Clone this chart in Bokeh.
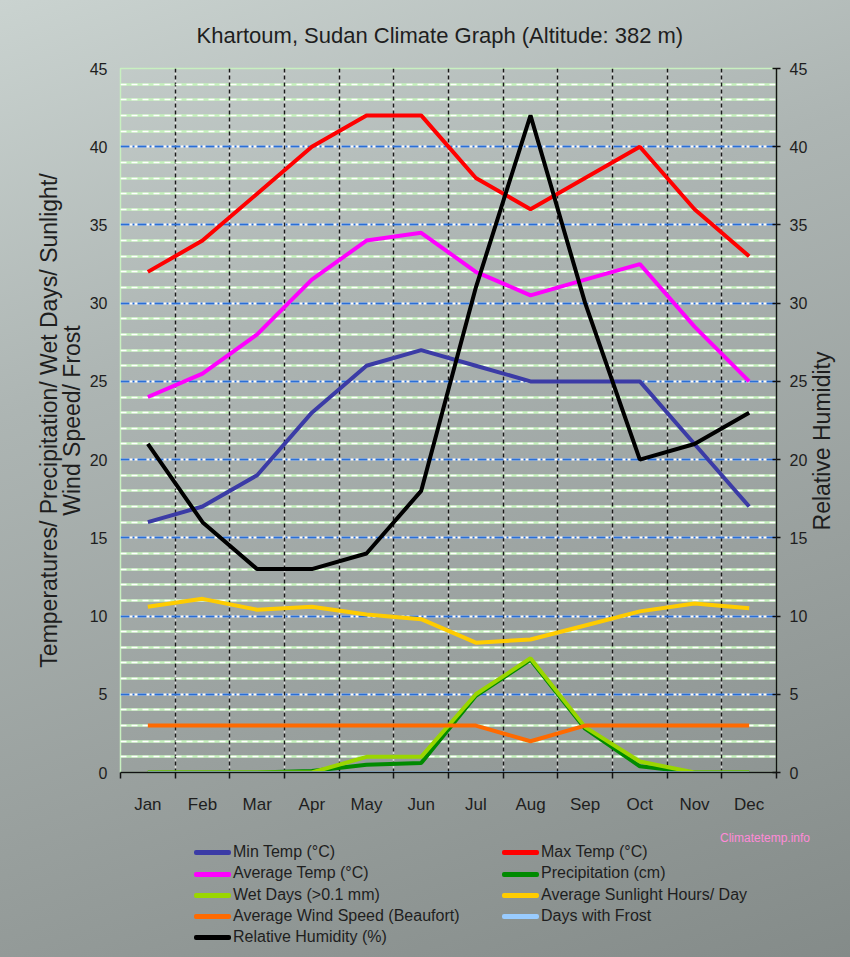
from bokeh.plotting import figure
from bokeh.layouts import column, row
from bokeh.models import (Range1d, LinearAxis, FixedTicker, Grid, Div)
from bokeh.embed import file_html
from bokeh.resources import INLINE

months = ["Jan", "Feb", "Mar", "Apr", "May", "Jun", "Jul", "Aug", "Sep", "Oct", "Nov", "Dec"]
month_index = [1, 2, 3, 4, 5, 6, 7, 8, 9, 10, 11, 12]
min_temp = [16, 17, 19, 23, 26, 27, 26, 25, 25, 25, 21, 17]
max_temp = [32, 34, 37, 40, 42, 42, 38, 36, 38, 40, 36, 33]
avg_temp = [24, 25.5, 28, 31.5, 34, 34.5, 32, 30.5, 31.5, 32.5, 28.5, 25]
precipitation = [0, 0, 0, 0.1, 0.5, 0.6, 4.9, 7.2, 2.8, 0.4, 0, 0]
wet_days = [0, 0, 0, 0, 1, 1, 5, 7.3, 2.9, 0.7, 0, 0]
sunlight = [10.6, 11.1, 10.4, 10.6, 10.1, 9.8, 8.3, 8.5, 9.4, 10.3, 10.8, 10.5]
wind_speed = [3, 3, 3, 3, 3, 3, 3, 2, 3, 3, 3, 3]
frost_days = [0, 0, 0, 0, 0, 0, 0, 0, 0, 0, 0, 0]
humidity = [21, 16, 13, 13, 14, 18, 31, 42, 30, 20, 21, 23]
major_y_ticks = [0, 5, 10, 15, 20, 25, 30, 35, 40, 45]
minor_y_ticks = [1, 2, 3, 4, 6, 7, 8, 9, 11, 12, 13, 14, 16, 17, 18, 19, 21, 22, 23, 24,
                 26, 27, 28, 29, 31, 32, 33, 34, 36, 37, 38, 39, 41, 42, 43, 44]
month_bounds = [0.5, 1.5, 2.5, 3.5, 4.5, 5.5, 6.5, 7.5, 8.5, 9.5, 10.5, 11.5, 12.5]
series_labels = ["Min Temp (°C)", "Max Temp (°C)", "Average Temp (°C)", "Precipitation (cm)",
                 "Wet Days (>0.1 mm)", "Average Sunlight Hours/ Day",
                 "Average Wind Speed (Beaufort)", "Days with Frost", "Relative Humidity (%)"]

series_colors = ["#3b3ba6", "#ff0000", "#ff00ff", "#008a00", "#9ad600", "#ffcc00",
                 "#ff6a00", "#99ccff", "#000000"]

FONT = "Liberation Sans"
TXT = "#1e1e1e"

p = figure(width=810, height=826, output_backend="svg", toolbar_location=None,
           x_range=Range1d(0.5, 12.5), y_range=Range1d(0, 45),
           min_border_left=120, min_border_right=32, min_border_top=68, min_border_bottom=54,
           x_axis_location=None, y_axis_location=None)
p.extra_y_ranges = {"rh": Range1d(0, 45)}
p.background_fill_alpha = 0
p.border_fill_alpha = 0
p.outline_line_color = "#c8f0c0"
p.outline_line_width = 1.5

# title
p.title.text = "Khartoum, Sudan Climate Graph (Altitude: 382 m)"
p.title.align = "left"
p.title.text_font = FONT
p.title.text_font_size = "22px"
p.title.text_font_style = "normal"
p.title.text_color = TXT
p.title.offset = 76
p.title.standoff = 41

# grids
p.xgrid.ticker = FixedTicker(ticks=month_bounds[1:-1])
p.xgrid.grid_line_color = "#f0f0f0"
p.xgrid.grid_line_alpha = 0.7
p.xgrid.grid_line_width = 1.5
vgrid = Grid(dimension=0, ticker=FixedTicker(ticks=month_bounds[1:-1]),
             grid_line_color="#1a1a1a", grid_line_width=1.5, grid_line_dash="4 3")
p.add_layout(vgrid)

p.ygrid.ticker = FixedTicker(ticks=major_y_ticks[1:-1], minor_ticks=minor_y_ticks)
p.ygrid.grid_line_color = "#ffffff"
p.ygrid.grid_line_width = 2
p.ygrid.minor_grid_line_color = "#c6f2bd"
p.ygrid.minor_grid_line_width = 2.5
hgrid = Grid(dimension=1, ticker=FixedTicker(ticks=major_y_ticks[1:-1], minor_ticks=minor_y_ticks),
             grid_line_color="#2a6fd6", grid_line_width=2, grid_line_dash="9 3 2 3",
             minor_grid_line_color="#ffffff", minor_grid_line_width=1.5,
             minor_grid_line_dash="6 5")
p.add_layout(hgrid)

# axes
xaxis = LinearAxis(ticker=FixedTicker(ticks=month_index, minor_ticks=month_bounds))
xaxis.major_label_overrides = {i: m for i, m in zip(month_index, months)}
xaxis.axis_line_color = "#111111"
xaxis.axis_line_width = 1.5
xaxis.major_tick_line_color = None
xaxis.major_tick_out = 0
xaxis.minor_tick_line_color = "#111111"
xaxis.minor_tick_line_width = 1.5
xaxis.minor_tick_out = 6
xaxis.minor_tick_in = 0
xaxis.major_label_standoff = 16
xaxis.major_label_text_font = FONT
xaxis.major_label_text_font_size = "17px"
xaxis.major_label_text_color = TXT
p.add_layout(xaxis, "below")

yaxis = LinearAxis(ticker=FixedTicker(ticks=major_y_ticks),
                   axis_label="Temperatures/ Precipitation/ Wet Days/ Sunlight/\nWind Speed/ Frost")
yaxis.axis_line_color = None
yaxis.major_tick_line_color = None
yaxis.major_tick_out = 0
yaxis.minor_tick_line_color = None
yaxis.major_label_standoff = 13
yaxis.major_label_text_font = FONT
yaxis.major_label_text_font_size = "16px"
yaxis.major_label_text_color = TXT
yaxis.axis_label_text_font = FONT
yaxis.axis_label_text_font_size = "23px"
yaxis.axis_label_text_font_style = "normal"
yaxis.axis_label_text_color = TXT
yaxis.axis_label_text_line_height = 0.87
yaxis.axis_label_standoff = 2
p.add_layout(yaxis, "left")

raxis = LinearAxis(y_range_name="rh", ticker=FixedTicker(ticks=major_y_ticks))
raxis.axis_line_color = "#111111"
raxis.axis_line_width = 1.5
raxis.major_tick_line_color = "#111111"
raxis.major_tick_line_width = 1.5
raxis.major_tick_in = 4
raxis.major_tick_out = 4
raxis.minor_tick_line_color = None
raxis.major_label_standoff = 9
raxis.major_label_text_font = FONT
raxis.major_label_text_font_size = "16px"
raxis.major_label_text_color = TXT
p.add_layout(raxis, "right")

# series
W = 4
p.line(month_index, min_temp, line_color=series_colors[0], line_width=W)
p.line(month_index, max_temp, line_color=series_colors[1], line_width=W)
p.line(month_index, avg_temp, line_color=series_colors[2], line_width=W)
p.line(month_index, precipitation, line_color=series_colors[3], line_width=W)
p.line(month_index, wet_days, line_color=series_colors[4], line_width=W)
p.line(month_index, sunlight, line_color=series_colors[5], line_width=W)
p.line(month_index, wind_speed, line_color=series_colors[6], line_width=W)
p.line(month_index, frost_days, line_color=series_colors[7], line_width=2.5)
p.line(month_index, humidity, line_color=series_colors[8], line_width=W, y_range_name="rh")

# legend (two columns, row-major) and credit, below the chart
cells = []
for lab, col in zip(series_labels, series_colors):
    cells.append(
        '<div style="white-space:nowrap;height:21.3px;line-height:21.3px;">'
        f'<span style="display:inline-block;width:37px;height:5px;border-radius:2px;'
        f'background:{col};vertical-align:middle;margin-right:2px;"></span>{lab}</div>')
legend_html = (
    '<div style="position:relative;width:810px;height:131px;'
    f"font-family:'{FONT}',sans-serif;color:{TXT};\">"
    '<span style="position:absolute;left:720px;top:4px;font-size:12px;color:#ff8ad8;'
    'white-space:nowrap;">Climatetemp.info</span>'
    '<div style="position:absolute;left:194px;top:15px;display:grid;'
    'grid-template-columns:308px auto;grid-auto-rows:21.3px;font-size:16px;">'
    + "".join(cells) + '</div></div>')
legend_div = Div(text=legend_html, width=810, height=131, margin=(0, 0, 0, 0))

# right-hand axis title, reading upwards
rh_title_html = (
    '<div style="position:relative;width:40px;height:957px;">'
    '<div style="position:absolute;left:12px;top:441px;'
    'transform:translate(-50%,-50%) rotate(-90deg);white-space:nowrap;'
    f"font-family:'{FONT}',sans-serif;font-size:23px;color:{TXT};\">"
    'Relative Humidity</div></div>')
rh_title_div = Div(text=rh_title_html, width=40, height=957, margin=(0, 0, 0, 0))

page = row(column(p, legend_div, spacing=0, margin=(0, 0, 0, 0)), rh_title_div,
           spacing=0, margin=(0, 0, 0, 0),
           styles={"background": "linear-gradient(160deg, #cad3d0 0%, #adb5b3 33%, "
                                 "#99a09e 66%, #848b89 100%)"})

open("out.html", "w").write(file_html(page, INLINE))
